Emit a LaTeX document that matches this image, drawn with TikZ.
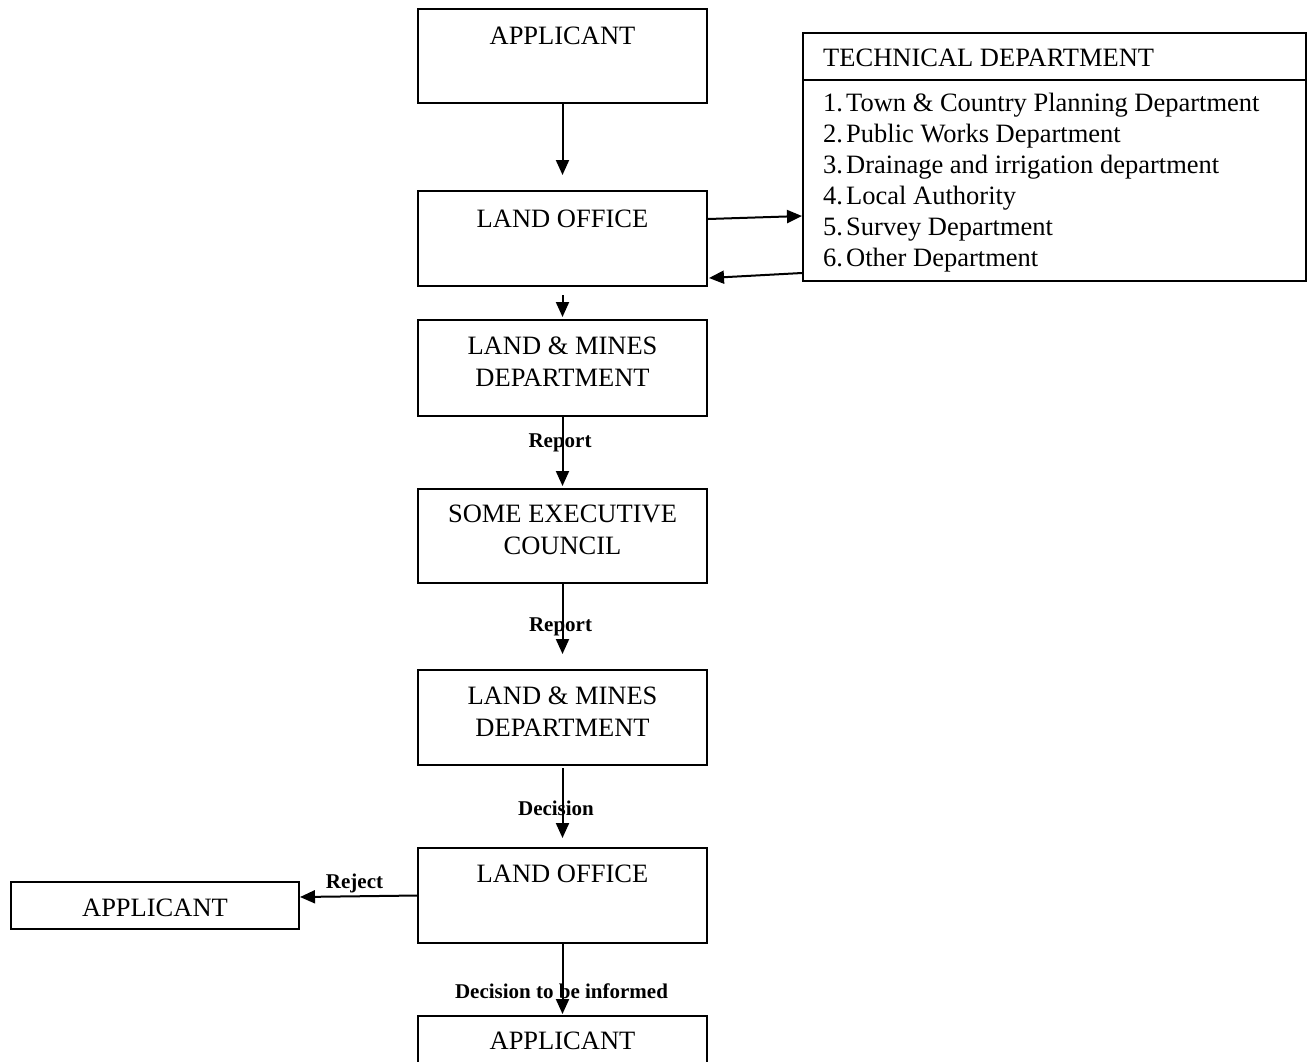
\documentclass[tikz,border=0pt]{standalone}
\usepackage{fontspec}
\setmainfont{Liberation Serif}
\usetikzlibrary{arrows.meta,calc}

\begin{document}
\begin{tikzpicture}[x=1pt,y=-1pt,
  box/.style={draw, line width=2pt, inner sep=0pt, minimum width=289pt, minimum height=95pt},
  txt/.style={anchor=base, inner sep=0pt, font=\fontsize{26.5pt}{32pt}\selectfont},
  ltxt/.style={anchor=base west, inner sep=0pt, font=\fontsize{26.5pt}{31pt}\selectfont},
  lbl/.style={anchor=base, inner sep=0pt, font=\fontsize{21pt}{24pt}\selectfont\bfseries},
  arr/.style={line width=2pt, -{Triangle[length=15pt,width=13pt]}}]

\useasboundingbox (0,0) rectangle (1308,1061);
\clip (0,0) rectangle (1308,1061);

% main column of boxes
\node[box, minimum height=94pt] (b1) at (562.5,56) {};
\node[txt] (t1) at ([yshift=-36pt]b1.north) {APPLICANT};

\node[box] (b2) at (562.5,238.5) {};
\node[txt] (t2) at ([yshift=-37pt]b2.north) {LAND OFFICE};

\node[box, minimum height=96pt] (b3) at (562.5,368) {};
\node[txt] (t3a) at ([yshift=-35pt]b3.north) {LAND \& MINES};
\node[txt] (t3b) at ([yshift=-67pt]b3.north) {DEPARTMENT};

\node[box, minimum height=94pt] (b4) at (562.5,536) {};
\node[txt] (t4a) at ([yshift=-34pt]b4.north) {SOME EXECUTIVE};
\node[txt] (t4b) at ([yshift=-66pt]b4.north) {COUNCIL};

\node[box] (b5) at (562.5,717.5) {};
\node[txt] (t5a) at ([yshift=-35pt]b5.north) {LAND \& MINES};
\node[txt] (t5b) at ([yshift=-67pt]b5.north) {DEPARTMENT};

\node[box] (b6) at (562.5,895.5) {};
\node[txt] (t6) at ([yshift=-35pt]b6.north) {LAND OFFICE};

\node[box] (b7) at (562.5,1063.5) {};
\node[txt] (t7) at ([yshift=-34pt]b7.north) {APPLICANT};

% rejected applicant
\node[box, minimum width=288pt, minimum height=47pt] (rej) at (155,905.5) {};
\node[txt] (trej) at ([yshift=-35pt]rej.north) {APPLICANT};

% technical department panel
\node[draw, line width=2pt, inner sep=0pt, minimum width=503pt, minimum height=47pt] (techhead) at (1054.5,56.5) {};
\node[draw, line width=2pt, inner sep=0pt, minimum width=503pt, minimum height=201pt] (techbody) at (1054.5,180.5) {};
\node[ltxt] (th) at ([shift={(21pt,-34pt)}]techhead.north west) {TECHNICAL DEPARTMENT};
\foreach \i/\t in {1/Town \& Country Planning Department,
                   2/Public Works Department,
                   3/Drainage and irrigation department,
                   4/Local Authority,
                   5/Survey Department,
                   6/Other Department}{
  \node[ltxt] (n\i) at ([shift={(21pt,{-32pt-31pt*(\i-1)})}]techbody.north west) {\i.};
  \node[ltxt] (l\i) at ([shift={(44pt,{-32pt-31pt*(\i-1)})}]techbody.north west) {\t};
}

% connector labels
\node[lbl] (r1) at (560,447) {Report};
\node[lbl] (r2) at (560.5,631) {Report};
\node[lbl] (d1) at (556,815) {Decision};
\node[lbl] (d2) at (561.5,998) {Decision to be informed};
\node[lbl] (rj) at (354.5,888) {Reject};

% connectors
\draw[arr] (b1.south) -- ([yshift=15pt]b2.north);
\draw[arr] ([yshift=-8pt]b2.south) -- ([yshift=2pt]b3.north);
\draw[arr] (b3.south) -- ([yshift=2pt]b4.north);
\draw[arr] (b4.south) -- ([yshift=15pt]b5.north);
\draw[arr] ([yshift=-2pt]b5.south) -- ([yshift=9pt]b6.north);
\draw[arr] (b6.south) -- ([yshift=1pt]b7.north);
\draw[arr] (b6.west) -- ([yshift=8.5pt]rej.east);
\draw[arr] ([yshift=-29pt]b2.north east) -- ([yshift=-137pt]techbody.north west);
\draw[arr] ([yshift=9pt]techbody.south west) -- ([shift={(1pt,9pt)}]b2.south east);

\end{tikzpicture}
\end{document}
